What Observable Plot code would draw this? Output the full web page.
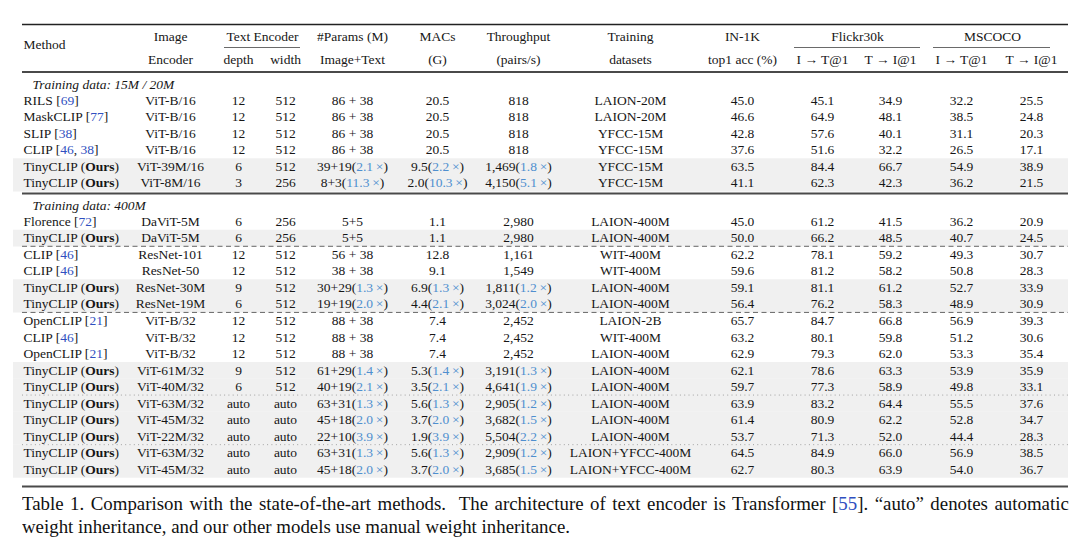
<!DOCTYPE html>
<html><head><meta charset="utf-8">
<script src="https://cdn.jsdelivr.net/npm/d3@7"></script>
<script src="https://cdn.jsdelivr.net/npm/@observablehq/plot@0.6"></script>
<style>
body{margin:0;background:#fff;}
#cap{font-family:"Liberation Serif",serif;font-size:19.5px;line-height:23px;color:#111;padding-left:22px;}
#cap span.l{display:inline-block;white-space:nowrap;transform-origin:0 50%;}
#cap .cite{color:#2f4fc0}
</style></head><body>
<div id="chart"></div>
<div id="cap"><span class="l" id="c1">Table 1. Comparison with the state-of-the-art methods.&nbsp; The architecture of text encoder is Transformer [<span class="cite">55</span>]. “auto” denotes automatic</span><br><span class="l" id="c2">weight inheritance, and our other models use manual weight inheritance.</span></div>
<script>
// ---------- data ----------
const sectionLabels = ["Training data: 15M / 20M", "Training data: 400M"];
const sections = [0,0,0,0,0,0, 1,1,1,1,1,1,1,1,1,1,1,1,1,1,1,1];
const methods = ["RILS","MaskCLIP","SLIP","CLIP","TinyCLIP","TinyCLIP",
  "Florence","TinyCLIP","CLIP","CLIP","TinyCLIP","TinyCLIP","OpenCLIP","CLIP","OpenCLIP",
  "TinyCLIP","TinyCLIP","TinyCLIP","TinyCLIP","TinyCLIP","TinyCLIP","TinyCLIP"];
const cites = ["69","77","38","46, 38","","", "72","","46","46","","","21","46","21","","","","","","",""];
const imageEncoders = ["ViT-B/16","ViT-B/16","ViT-B/16","ViT-B/16","ViT-39M/16","ViT-8M/16",
  "DaViT-5M","DaViT-5M","ResNet-101","ResNet-50","ResNet-30M","ResNet-19M","ViT-B/32","ViT-B/32","ViT-B/32",
  "ViT-61M/32","ViT-40M/32","ViT-63M/32","ViT-45M/32","ViT-22M/32","ViT-63M/32","ViT-45M/32"];
const depths = ["12","12","12","12","6","3","6","6","12","12","9","6","12","12","12","9","6","auto","auto","auto","auto","auto"];
const widths = ["512","512","512","512","512","256","256","256","512","512","512","512","512","512","512","512","512","auto","auto","auto","auto","auto"];
const params = ["86 + 38","86 + 38","86 + 38","86 + 38","39+19","8+3","5+5","5+5","56 + 38","38 + 38","30+29","19+19",
  "88 + 38","88 + 38","88 + 38","61+29","40+19","63+31","45+18","22+10","63+31","45+18"];
const paramsSpeedup = ["","","","","2.1","11.3","","","","","1.3","2.0","","","","1.4","2.1","1.3","2.0","3.9","1.3","2.0"];
const macs = ["20.5","20.5","20.5","20.5","9.5","2.0","1.1","1.1","12.8","9.1","6.9","4.4","7.4","7.4","7.4","5.3","3.5","5.6","3.7","1.9","5.6","3.7"];
const macsSpeedup = ["","","","","2.2","10.3","","","","","1.3","2.1","","","","1.4","2.1","1.3","2.0","3.9","1.3","2.0"];
const throughput = ["818","818","818","818","1,469","4,150","2,980","2,980","1,161","1,549","1,811","3,024",
  "2,452","2,452","2,452","3,191","4,641","2,905","3,682","5,504","2,909","3,685"];
const throughputSpeedup = ["","","","","1.8","5.1","","","","","1.2","2.0","","","","1.3","1.9","1.2","1.5","2.2","1.2","1.5"];
const datasets = ["LAION-20M","LAION-20M","YFCC-15M","YFCC-15M","YFCC-15M","YFCC-15M","LAION-400M","LAION-400M",
  "WIT-400M","WIT-400M","LAION-400M","LAION-400M","LAION-2B","WIT-400M","LAION-400M","LAION-400M","LAION-400M",
  "LAION-400M","LAION-400M","LAION-400M","LAION+YFCC-400M","LAION+YFCC-400M"];
const in1k = ["45.0","46.6","42.8","37.6","63.5","41.1","45.0","50.0","62.2","59.6","59.1","56.4","65.7","63.2","62.9","62.1","59.7","63.9","61.4","53.7","64.5","62.7"];
const flickrIT = ["45.1","64.9","57.6","51.6","84.4","62.3","61.2","66.2","78.1","81.2","81.1","76.2","84.7","80.1","79.3","78.6","77.3","83.2","80.9","71.3","84.9","80.3"];
const flickrTI = ["34.9","48.1","40.1","32.2","66.7","42.3","41.5","48.5","59.2","58.2","61.2","58.3","66.8","59.8","62.0","63.3","58.9","64.4","62.2","52.0","66.0","63.9"];
const cocoIT = ["32.2","38.5","31.1","26.5","54.9","36.2","36.2","40.7","49.3","50.8","52.7","48.9","56.9","51.2","53.3","53.9","49.8","55.5","52.8","44.4","56.9","54.0"];
const cocoTI = ["25.5","24.8","20.3","17.1","38.9","21.5","20.9","24.5","30.7","28.3","33.9","30.9","39.3","30.6","35.4","35.9","33.1","37.6","34.7","28.3","38.5","36.7"];
// group dividers inside the 400M block: after which row, and line style
const dividerAfter = [7, 11, 16, 19];
const dividerStyle = ["dash", "dash", "dot", "dot"];
// header labels
const headerRow1 = ["Image","Text Encoder","#Params (M)","MACs","Throughput","Training","IN-1K","Flickr30k","MSCOCO"];
const headerRow1Cols = ["enc","teH","params","macs","thr","data","in1k","fkH","mcH"];
const headerRow2 = ["Encoder","depth","width","Image+Text","(G)","(pairs/s)","datasets","top1 acc (%)","I → T@1","T → I@1","I → T@1","T → I@1"];
const headerRow2Cols = ["enc","depth","width","params","macs","thr","data","in1k","fIT","fTI","cIT","cTI"];
const groupSpans = [["teL","teR"],["fkL","fkR"],["mcL","mcR"]];

// ---------- layout (scale configuration only) ----------
const colPos = {L:22, R:1068, method:23, sec:32, enc:170, teH:262, teL:224, teR:300, depth:238, width:285,
  params:352, macs:437, thr:518, data:630, in1k:742, fkH:857, fkL:794, fkR:920, fIT:822, fTI:890,
  mcH:992, mcL:933, mcR:1050, cIT:961, cTI:1031};
const ROW = 16.53;
const sectionStart = [100, 221];
const fixedY = {top:24, h1:36, hm:44, tu:47, h2:59, hr:71.5, s0:84, sr:193, s1:205, br:486};
const yPos = {...fixedY};
const idx = methods.map((_, i) => i);
const rowId = i => "r" + i;
idx.forEach(i => {
  const s = sections[i];
  const k = i - sections.indexOf(s);
  yPos[rowId(i)] = sectionStart[s] + k * ROW;
});
dividerAfter.forEach(a => { yPos["d" + a] = yPos[rowId(a)] + ROW / 2; });
const yKeys = Object.keys(yPos);
const xKeys = Object.keys(colPos);

// ---------- cells ----------
const B = s => "⟨b|" + s + "⟩", C = s => "⟨c|" + s + "⟩", S = s => "⟨s|" + s + "\u2009×⟩";
const withSpeed = (v, s) => s ? v + "(" + S(s) + ")" : v;
const methodLabel = i => methods[i] === "TinyCLIP" ? "TinyCLIP (" + B("Ours") + ")"
  : methods[i] + " [" + cites[i].split(", ").map(C).join(", ") + "]";
const ours = idx.filter(i => methods[i] === "TinyCLIP");

const centerCells = [];
idx.forEach(i => {
  const r = rowId(i);
  centerCells.push(
    {col:"enc", row:r, text:imageEncoders[i]},
    {col:"depth", row:r, text:depths[i]},
    {col:"width", row:r, text:widths[i]},
    {col:"params", row:r, text:withSpeed(params[i], paramsSpeedup[i])},
    {col:"macs", row:r, text:withSpeed(macs[i], macsSpeedup[i])},
    {col:"thr", row:r, text:withSpeed(throughput[i], throughputSpeedup[i])},
    {col:"data", row:r, text:datasets[i]},
    {col:"in1k", row:r, text:in1k[i]},
    {col:"fIT", row:r, text:flickrIT[i]},
    {col:"fTI", row:r, text:flickrTI[i]},
    {col:"cIT", row:r, text:cocoIT[i]},
    {col:"cTI", row:r, text:cocoTI[i]}
  );
});
headerRow1.forEach((t, j) => centerCells.push({col:headerRow1Cols[j], row:"h1", text:t}));
headerRow2.forEach((t, j) => centerCells.push({col:headerRow2Cols[j], row:"h2", text:t}));

const methodCells = idx.map(i => ({col:"method", row:rowId(i), text:methodLabel(i)}));
methodCells.push({col:"method", row:"hm", text:"Method"});
const sectionCells = sectionLabels.map((t, s) => ({col:"sec", row:"s" + s, text:t}));

const ink = "#161616";
const font = "Liberation Serif";
const fs = 13.5;

const chart = Plot.plot({
  width: 1080, height: 492,
  marginLeft: 13, marginRight: 12, marginTop: 0, marginBottom: 0,
  x: {type: "ordinal", domain: xKeys, range: xKeys.map(k => colPos[k]), axis: null},
  y: {type: "ordinal", domain: yKeys, range: yKeys.map(k => yPos[k]), axis: null},
  style: {fontFamily: font, fontSize: fs + "px", background: "#fff", color: ink},
  marks: [
    Plot.ruleY(ours.map(rowId), {y: d => d, stroke: "#f0f0f0", strokeWidth: ROW + 0.2}),
    Plot.ruleY(["top"], {y: d => d, x1: () => "L", x2: () => "R", stroke: "#222", strokeWidth: 1.3}),
    Plot.ruleY(["hr", "sr", "br"], {y: d => d, x1: () => "L", x2: () => "R", stroke: "#4a4a4a", strokeWidth: 2.2}),
    Plot.ruleY(groupSpans, {y: () => "tu", x1: d => d[0], x2: d => d[1], stroke: "#444", strokeWidth: 0.8}),
    Plot.ruleY(dividerAfter.filter((a, j) => dividerStyle[j] === "dash"), {y: d => "d" + d, x1: () => "L", x2: () => "R",
      stroke: "#555", strokeWidth: 0.9, strokeDasharray: "5,3.5"}),
    Plot.ruleY(dividerAfter.filter((a, j) => dividerStyle[j] === "dot"), {y: d => "d" + d, x1: () => "L", x2: () => "R",
      stroke: "#999", strokeWidth: 0.9, strokeDasharray: "1,3.3"}),
    Plot.text(centerCells, {x: "col", y: "row", text: "text", fill: ink, fontSize: fs, textAnchor: "middle"}),
    Plot.text(methodCells, {x: "col", y: "row", text: "text", fill: ink, fontSize: fs, textAnchor: "start"}),
    Plot.text(sectionCells, {x: "col", y: "row", text: "text", fill: ink, fontSize: fs, fontStyle: "italic", textAnchor: "start"})
  ]
});
document.getElementById("chart").appendChild(chart);

// rich text: bold "Ours", blue citations, light-blue speedups
const styles = {b: {"font-weight": "bold"}, c: {fill: "#2f4fc0"}, s: {fill: "#4f8fcf"}};
chart.querySelectorAll("text").forEach(el => {
  const str = el.textContent;
  if (!str.includes("⟨")) return;
  while (el.firstChild) el.removeChild(el.firstChild);
  const re = /⟨(\w)\|([^⟩]*)⟩/g;
  let last = 0, m;
  const add = (t, st) => {
    const ts = document.createElementNS("http://www.w3.org/2000/svg", "tspan");
    ts.textContent = t;
    if (st) for (const k in st) ts.setAttribute(k, st[k]);
    el.appendChild(ts);
  };
  while ((m = re.exec(str))) {
    if (m.index > last) add(str.slice(last, m.index));
    add(m[2], styles[m[1]]);
    last = re.lastIndex;
  }
  if (last < str.length) add(str.slice(last));
});

// caption: condensed like the reference, first line justified to the table width
const c1 = document.getElementById("c1"), c2 = document.getElementById("c2");
const k = 548 / c2.getBoundingClientRect().width;
const w1 = c1.getBoundingClientRect().width;
const gaps = (c1.textContent.match(/ /g) || []).length;
c1.style.wordSpacing = ((1045 / k - w1) / gaps) + "px";
c1.style.transform = c2.style.transform = "scaleX(" + k + ")";
</script>
</body></html>
